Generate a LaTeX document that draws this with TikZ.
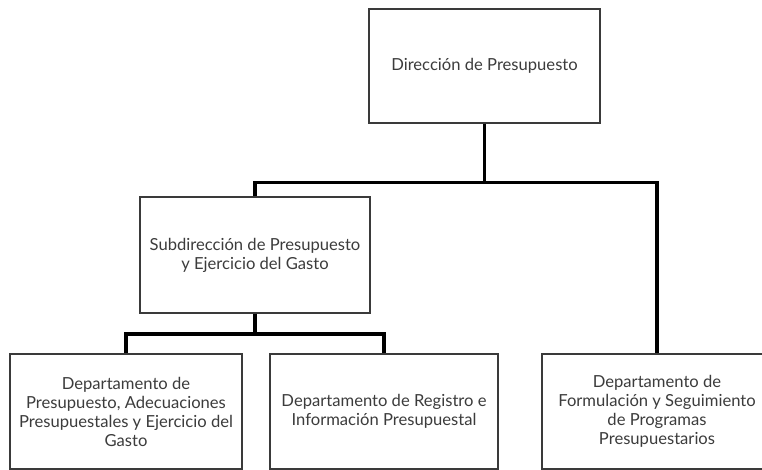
\documentclass[tikz,border=0pt]{standalone}
\usepackage{fontspec}
\setmainfont{Lato}
\definecolor{boxline}{HTML}{3A3A3A}
\definecolor{boxtext}{HTML}{3C3C3C}
\begin{document}
\begin{tikzpicture}[x=1pt, y=-1pt,
        every node/.style={rectangle, draw=boxline, line width=1.4pt, fill=white,
            align=center, text=boxtext, inner sep=2pt,
            font=\fontsize{16.6}{19}\selectfont},
        link/.style={line width=3.6pt, black}]
        \useasboundingbox (0,0) rectangle (762,470);
        \node (dir) [minimum width=231pt, minimum height=114pt] at (484.5,66) {Dirección de Presupuesto};
        \node (sub) [minimum width=230pt, minimum height=116pt] at (255,255) {Subdirección de Presupuesto\\y Ejercicio del Gasto};
        \node (adec) [minimum width=232pt, minimum height=115pt] at (126,411.5) {Departamento de\\Presupuesto, Adecuaciones\\Presupuestales y Ejercicio del\\Gasto};
        \node (reg) [minimum width=228pt, minimum height=115pt] at (384,411.5) {Departamento de Registro e\\Información Presupuestal};
        \node (form) [minimum width=230pt, minimum height=115pt] at (657,411.5) {Departamento de\\Formulación y Seguimiento\\de Programas\\Presupuestarios};
        
        \draw[link] (dir.south) -- ++(0,59) -| (sub.north);
        \draw[link] (dir.south) -- ++(0,59) -| (form.north);
        \draw[link] (sub.south) -- ++(0,20) -| (adec.north);
        \draw[link] (sub.south) -- ++(0,20) -| (reg.north);
    \end{tikzpicture}
\end{document}
